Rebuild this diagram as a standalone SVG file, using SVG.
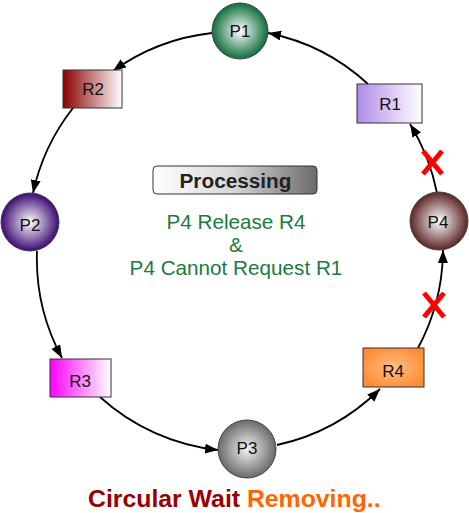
<svg xmlns="http://www.w3.org/2000/svg" width="469" height="513" viewBox="0 0 469 513">
<style>
.node-label{font-family:"Liberation Sans",Arial,sans-serif;font-size:17px;fill:#111;text-anchor:middle}
.conn{fill:none;stroke:#000;stroke-width:1.8;marker-end:url(#arrow)}
.circ{stroke:#444;stroke-width:1}
.box{stroke:#333;stroke-width:1}
.xmark{stroke:#ff0000;stroke-width:5;stroke-linecap:butt}
.green{font-family:"Liberation Sans",Arial,sans-serif;font-size:20.7px;fill:#1d7a3e;text-anchor:middle}
</style>
<defs>
<marker id="arrow" markerWidth="14" markerHeight="11" refX="13" refY="5" orient="auto" markerUnits="userSpaceOnUse">
<path d="M0,0 L13,5 L0,10 Z" fill="#000"/>
</marker>
<radialGradient id="gP1" cx="0.5" cy="0.5" r="0.5"><stop offset="0" stop-color="#ffffff"/><stop offset="1" stop-color="#0f6e3c"/></radialGradient>
<radialGradient id="gP2" cx="0.5" cy="0.5" r="0.5"><stop offset="0" stop-color="#ffffff"/><stop offset="1" stop-color="#3a0a72"/></radialGradient>
<radialGradient id="gP3" cx="0.5" cy="0.5" r="0.5"><stop offset="0" stop-color="#f4f4f4"/><stop offset="1" stop-color="#6a6a6a"/></radialGradient>
<radialGradient id="gP4" cx="0.5" cy="0.5" r="0.5"><stop offset="0" stop-color="#ffffff"/><stop offset="1" stop-color="#5c2525"/></radialGradient>
<linearGradient id="gR1" x1="0" y1="0" x2="1" y2="0"><stop offset="0" stop-color="#b08ae8"/><stop offset="1" stop-color="#ffffff"/></linearGradient>
<linearGradient id="gR2" x1="0" y1="0" x2="1" y2="0"><stop offset="0" stop-color="#8b0000"/><stop offset="1" stop-color="#ffffff"/></linearGradient>
<linearGradient id="gR3" x1="0" y1="0" x2="1" y2="0"><stop offset="0" stop-color="#ff00ff"/><stop offset="1" stop-color="#ffffff"/></linearGradient>
<radialGradient id="gR4" cx="0.5" cy="0.5" r="0.6"><stop offset="0" stop-color="#ffbe85"/><stop offset="1" stop-color="#ff8a30"/></radialGradient>
<linearGradient id="gProc" x1="0" y1="0" x2="1" y2="0"><stop offset="0" stop-color="#ffffff"/><stop offset="0.5" stop-color="#d6d6d6"/><stop offset="1" stop-color="#6a6a6a"/></linearGradient>
</defs>

<g id="connectors">
<path class="conn" d="M212,33 A209,209 0 0 0 113,71"/>
<path class="conn" d="M73,108 A209,209 0 0 0 33,193"/>
<path class="conn" d="M37,251 A209,209 0 0 0 62,358"/>
<path class="conn" d="M100,397 A209,209 0 0 0 218,450"/>
<path class="conn" d="M277,445 A209,209 0 0 0 380,389"/>
<path class="conn" d="M418,348 A209,209 0 0 0 443,250"/>
<path class="conn" d="M437,193 A209,209 0 0 0 410,124"/>
<path class="conn" d="M368,84 A209,209 0 0 0 268,33"/>
</g>

<g id="P1"><circle class="circ" cx="240" cy="31" r="28" fill="url(#gP1)"/><text class="node-label" x="240" y="37">P1</text></g>
<g id="R2"><rect class="box" x="63" y="70" width="59" height="38" fill="url(#gR2)"/><text class="node-label" x="93" y="95">R2</text></g>
<g id="P2"><circle class="circ" cx="30" cy="222" r="29" fill="url(#gP2)"/><text class="node-label" x="30" y="231">P2</text></g>
<g id="R3"><rect class="box" x="50" y="359" width="61" height="38" fill="url(#gR3)"/><text class="node-label" x="80" y="387">R3</text></g>
<g id="P3"><circle class="circ" cx="247" cy="449" r="29" fill="url(#gP3)"/><text class="node-label" x="247" y="454">P3</text></g>
<g id="R4"><rect class="box" x="363" y="348" width="61" height="39" fill="url(#gR4)"/><text class="node-label" x="393" y="377">R4</text></g>
<g id="P4"><circle class="circ" cx="439" cy="221" r="29" fill="url(#gP4)"/><text class="node-label" x="438" y="228">P4</text></g>
<g id="R1"><rect class="box" x="357" y="84" width="65" height="39" fill="url(#gR1)"/><text class="node-label" x="390" y="110">R1</text></g>

<g id="x1"><line class="xmark" x1="423" y1="151" x2="442" y2="174"/><line class="xmark" x1="442" y1="151" x2="423" y2="174"/></g>
<g id="x2"><line class="xmark" x1="424" y1="293" x2="444" y2="317"/><line class="xmark" x1="444" y1="293" x2="424" y2="317"/></g>

<g id="processing">
<rect x="153" y="166" width="164" height="28" rx="4" ry="4" fill="url(#gProc)" stroke="#333" stroke-width="1"/>
<text x="235.5" y="188" font-family="'Liberation Sans',Arial,sans-serif" font-size="19.5" font-weight="bold" fill="#222" text-anchor="middle" textLength="112" lengthAdjust="spacingAndGlyphs">Processing</text>
</g>

<g id="note">
<text class="green" x="236" y="229">P4 Release R4</text>
<text class="green" x="236" y="252">&amp;</text>
<text class="green" x="236" y="275">P4 Cannot Request R1</text>
</g>

<g id="title">
<text x="88" y="507" font-family="'Liberation Sans',Arial,sans-serif" font-size="24.8" font-weight="bold"><tspan fill="#990000">Circular Wait </tspan><tspan fill="#ff6600">Removing..</tspan></text>
</g>
</svg>
